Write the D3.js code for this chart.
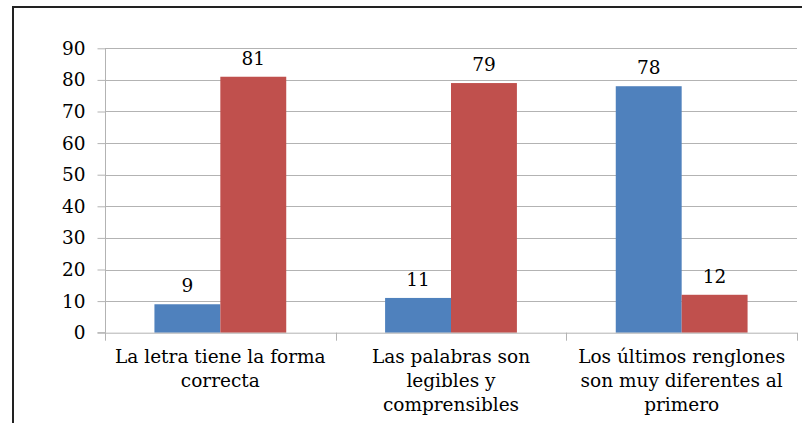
<!DOCTYPE html>
<html><head><meta charset="utf-8">
<script src="https://cdn.jsdelivr.net/npm/d3@7"></script>
<style>body{margin:0;background:#fff}svg{display:block}</style>
</head><body><svg id="c" width="802" height="423"></svg>
<script>
const categories = [["La letra tiene la forma","correcta"],["Las palabras son","legibles y","comprensibles"],["Los últimos renglones","son muy diferentes al","primero"]];
const seriesA = [9, 11, 78];
const seriesB = [81, 79, 12];
const yTicks = [0,10,20,30,40,50,60,70,80,90];
const colors = ["#4F81BD", "#C0504D"];

const svg = d3.select("#c");
const font = "'DejaVu Serif', serif";
const fs = 18.5;
const pLeft = 105, pRight = 797, pTop = 48.3, pBottom = 332.7;

svg.append("line").attr("x1",13).attr("x2",802).attr("y1",7).attr("y2",7).attr("stroke","#222").attr("stroke-width",2);
svg.append("line").attr("x1",13).attr("x2",13).attr("y1",6).attr("y2",423).attr("stroke","#222").attr("stroke-width",2);

const y = d3.scaleLinear().domain([0,90]).range([pBottom, pTop]);
const x = d3.scaleBand().domain(d3.range(categories.length)).range([pLeft, pRight]).paddingInner(0).paddingOuter(0);
const xi = d3.scaleBand().domain([0,1]).range([0, x.bandwidth()]).paddingOuter(0.75).paddingInner(0);

// gridlines
svg.append("g").selectAll("line").data(yTicks.filter(d=>d>0)).join("line")
  .attr("x1", pLeft).attr("x2", pRight).attr("y1", d=>Math.round(y(d))+0.5).attr("y2", d=>Math.round(y(d))+0.5)
  .attr("stroke","#b3b3b3").attr("stroke-width",1);

// y axis
const yAxis = d3.axisLeft(y).tickValues(yTicks).tickSize(8).tickPadding(12);
const gy = svg.append("g").attr("transform",`translate(${pLeft+0.5},0)`).call(yAxis);
gy.select(".domain").attr("stroke","#b3b3b3").attr("d",`M-8,${pBottom}H0V${pTop}`);
gy.selectAll(".tick line").attr("stroke","#b3b3b3");
gy.selectAll(".tick text").attr("font-family",font).attr("font-size",fs).attr("fill","#000");

// bars
const data = [];
categories.forEach((c,i)=>{ data.push({i, s:0, v:seriesA[i]}); data.push({i, s:1, v:seriesB[i]}); });
svg.append("g").selectAll("rect").data(data).join("rect")
  .attr("x", d=>x(d.i)+xi(d.s)).attr("width", xi.bandwidth())
  .attr("y", d=>y(d.v)).attr("height", d=>y(0)-y(d.v)).attr("fill", d=>colors[d.s]);

svg.append("g").selectAll("text").data(data).join("text")
  .attr("x", d=>x(d.i)+xi(d.s)+xi.bandwidth()/2).attr("y", d=>y(d.v)-12)
  .attr("text-anchor","middle").attr("font-family",font).attr("font-size",fs).attr("fill","#000")
  .text(d=>d.v);

// x axis
const xAxis = d3.axisBottom(x).tickSize(0).tickFormat("");
const gx = svg.append("g").attr("transform",`translate(0,${pBottom+0.5})`).call(xAxis);
gx.select(".domain").attr("stroke","#b3b3b3").attr("d",`M${pLeft},0H${pRight}`);
const bounds = [pLeft, ...d3.range(categories.length).map(i=>x(i)+x.bandwidth())];
svg.append("g").selectAll("line").data(bounds).join("line")
  .attr("x1",d=>Math.round(d)+0.5).attr("x2",d=>Math.round(d)+0.5).attr("y1",pBottom).attr("y2",pBottom+8)
  .attr("stroke","#b3b3b3");

const lbl = svg.append("g").selectAll("text").data(categories).join("text")
  .attr("text-anchor","middle").attr("font-family",font).attr("font-size",fs).attr("fill","#000");
lbl.each(function(lines,i){
  d3.select(this).selectAll("tspan").data(lines).join("tspan")
    .attr("x", x(i)+x.bandwidth()/2).attr("y",(d,k)=>363+k*24).text(d=>d);
});
</script></body></html>
